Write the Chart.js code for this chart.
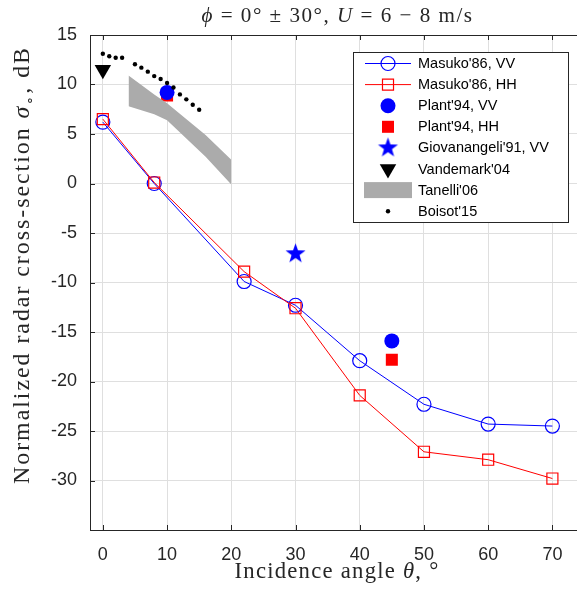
<!DOCTYPE html>
<html>
<head>
<meta charset="utf-8">
<script src="https://cdn.jsdelivr.net/npm/chart.js@4.4.1/dist/chart.umd.min.js"></script>
<style>
  html, body { margin: 0; padding: 0; background: #fff; overflow: hidden; }
  #wrap { width: 577px; height: 598px; overflow: hidden; }
</style>
</head>
<body>
<div id="wrap"><canvas id="rcsChart" width="600" height="598"></canvas></div>
<script>
// incidence angle (deg) and NRCS (dB)
const masukoAngles = [0, 8, 22, 30, 40, 50, 60, 70];
const masukoVV = [6.2, 0.0, -9.9, -12.3, -17.9, -22.3, -24.3, -24.5];
const masukoHH = [6.5, 0.1, -8.9, -12.6, -21.4, -27.1, -27.9, -29.8];
const plantAngles = [10, 45];
const plantVV = [9.2, -15.9];
const plantHH = [8.9, -17.8];
const giovanAngles = [30];
const giovanVV = [-7.1];
const vandemarkAngles = [0];
const vandemarkVals = [11.5];
const tanelliAngles = [4, 8, 10, 16, 20];
const tanelliUpper = [10.9, 9.0, 8.1, 4.9, 2.4];
const tanelliLower = [7.8, 7.0, 6.4, 2.7, -0.1];
const boisotAngles = [0, 1, 2, 3, 5, 6, 7, 8, 9, 10, 11, 12, 13, 14, 15];
const boisotVals = [13.1, 12.85, 12.7, 12.7, 12.05, 11.7, 11.3, 10.85, 10.55, 10.15, 9.7, 9.0, 8.5, 7.95, 7.45];
const xTickValues = [0, 10, 20, 30, 40, 50, 60, 70];
const yTickValues = [-35, -30, -25, -20, -15, -10, -5, 0, 5, 10, 15];
const legendOrder = ["Masuko'86, VV", "Masuko'86, HH", "Plant'94, VV", "Plant'94, HH",
  "Giovanangeli'91, VV", "Vandemark'04", "Tanelli'06", "Boisot'15"];

const pts = (xs, ys) => xs.map((x, i) => ({ x, y: ys[i] }));
const AX = '#262626';
const SANS = "'Liberation Sans', Arial, Helvetica, sans-serif";
const SERIF = "'Liberation Serif', 'Times New Roman', serif";

function makeStar(r, color) {
  const c = document.createElement('canvas');
  const s = Math.ceil(r * 2 + 2);
  c.width = c.height = s;
  const g = c.getContext('2d');
  g.fillStyle = color;
  g.beginPath();
  for (let k = 0; k < 10; k++) {
    const rad = k % 2 ? r * 0.4 : r;
    const a = -Math.PI / 2 + k * Math.PI / 5;
    g.lineTo(s / 2 + rad * Math.cos(a), s / 2 + rad * Math.sin(a));
  }
  g.closePath();
  g.fill();
  return c;
}
const star = makeStar(10.5, '#0000ff');

const datasets = [
  { label: "Boisot'15", data: pts(boisotAngles, boisotVals), showLine: false,
    pointStyle: 'circle', pointRadius: 2.2, pointBackgroundColor: '#000', pointBorderWidth: 0, order: 0 },
  { label: "Tanelli'06", data: pts(tanelliAngles, tanelliUpper), showLine: true,
    borderColor: 'rgba(0,0,0,0)', backgroundColor: '#ababab', pointRadius: 0, fill: '+1', order: 1 },
  { label: "tanelli-low", data: pts(tanelliAngles, tanelliLower), showLine: true,
    borderColor: 'rgba(0,0,0,0)', pointRadius: 0, fill: false, order: 1 },
  { label: "Vandemark'04", data: pts(vandemarkAngles, vandemarkVals), showLine: false,
    pointStyle: 'triangle', rotation: 180, pointRadius: 9.5, pointBackgroundColor: '#000', pointBorderWidth: 0, order: 2 },
  { label: "Giovanangeli'91, VV", data: pts(giovanAngles, giovanVV), showLine: false,
    pointStyle: star, pointRadius: 10.5, order: 3 },
  { label: "Plant'94, VV", data: pts(plantAngles, plantVV), showLine: false,
    pointStyle: 'circle', pointRadius: 7.5, pointBackgroundColor: '#0000ff', pointBorderWidth: 0, order: 4 },
  { label: "Plant'94, HH", data: pts(plantAngles, plantHH), showLine: false,
    pointStyle: 'rect', pointRadius: 8.5, pointBackgroundColor: '#ff0000', pointBorderWidth: 0, order: 5 },
  { label: "Masuko'86, HH", data: pts(masukoAngles, masukoHH), showLine: true,
    borderColor: '#ff0000', borderWidth: 1, pointStyle: 'rect', pointRadius: 7.8,
    pointBorderColor: '#ff0000', pointBackgroundColor: 'rgba(0,0,0,0)', pointBorderWidth: 1.2, order: 6 },
  { label: "Masuko'86, VV", data: pts(masukoAngles, masukoVV), showLine: true,
    borderColor: '#0000ff', borderWidth: 1, pointStyle: 'circle', pointRadius: 7,
    pointBorderColor: '#0000ff', pointBackgroundColor: 'rgba(0,0,0,0)', pointBorderWidth: 1.2, order: 7 }
];

// mixed roman/italic serif text, stretched to the reference width:
// half by font size, the rest by letter spacing
function drawRich(ctx, segs, cx, cy, angle, target) {
  const font = s => (s.it ? 'italic ' : '') + s.size + 'px ' + SERIF;
  const measure = () => segs.reduce((w, s) => { ctx.font = font(s); return w + ctx.measureText(s.t).width; }, 0);
  ctx.save();
  ctx.translate(cx, cy);
  ctx.rotate(angle);
  ctx.fillStyle = AX;
  ctx.textBaseline = 'alphabetic';
  ctx.textAlign = 'left';
  ctx.letterSpacing = '0px';
  const k = Math.sqrt(target / measure());
  segs.forEach(s => { s.size = +(s.size * k).toFixed(1); if (s.dy) s.dy *= k; });
  const n = segs.reduce((c, s) => c + [...s.t].length, 0);
  ctx.letterSpacing = ((target - measure()) / n).toFixed(2) + 'px';
  const w = measure();
  let x = -w / 2;
  segs.forEach(s => { ctx.font = font(s); ctx.fillText(s.t, x, s.dy || 0); x += ctx.measureText(s.t).width; });
  ctx.restore();
}

const decorations = {
  id: 'decorations',
  beforeDraw(chart) {
    const ctx = chart.ctx;
    ctx.save();
    ctx.fillStyle = '#fff';
    ctx.fillRect(0, 0, chart.width, chart.height);
    ctx.restore();
  },
  afterDraw(chart) {
    const ctx = chart.ctx;
    const a = chart.chartArea;
    const xs = chart.scales.x, ys = chart.scales.y;
    ctx.save();
    // box and inward ticks
    ctx.strokeStyle = AX;
    ctx.lineWidth = 1;
    ctx.strokeRect(Math.round(a.left) + 0.5, Math.round(a.top) + 0.5,
      Math.round(a.right - a.left), Math.round(a.bottom - a.top));
    ctx.beginPath();
    xTickValues.forEach(v => {
      const p = Math.round(xs.getPixelForValue(v)) + 0.5;
      ctx.moveTo(p, a.bottom); ctx.lineTo(p, a.bottom - 5);
      ctx.moveTo(p, a.top); ctx.lineTo(p, a.top + 5);
    });
    yTickValues.forEach(v => {
      const p = Math.round(ys.getPixelForValue(v)) + 0.5;
      ctx.moveTo(a.left, p); ctx.lineTo(a.left + 5, p);
      ctx.moveTo(a.right, p); ctx.lineTo(a.right - 5, p);
    });
    ctx.stroke();

    // legend
    const lx = 353.5, ly = 52.5, lw = 215, lh = 170;
    ctx.fillStyle = '#fff';
    ctx.fillRect(lx, ly, lw, lh);
    ctx.strokeStyle = AX;
    ctx.strokeRect(lx, ly, lw, lh);
    legendOrder.forEach((label, i) => {
      const ds = chart.data.datasets.find(d => d.label === label);
      const cy = 63.5 + i * 21.1;
      const mx = 388;
      if (ds.fill) {
        ctx.fillStyle = ds.backgroundColor;
        ctx.fillRect(364, cy - 8, 48, 16);
      } else {
        if (ds.showLine) {
          ctx.strokeStyle = ds.borderColor;
          ctx.lineWidth = ds.borderWidth;
          ctx.beginPath();
          ctx.moveTo(365, cy); ctx.lineTo(411, cy);
          ctx.stroke();
        }
        ctx.fillStyle = ds.pointBackgroundColor || '#000';
        ctx.strokeStyle = ds.pointBorderColor || '#000';
        ctx.lineWidth = ds.pointBorderWidth || 0;
        Chart.helpers.drawPoint(ctx, {
          pointStyle: ds.pointStyle, radius: ds.pointRadius,
          rotation: ds.rotation || 0, borderWidth: ds.pointBorderWidth || 0
        }, mx, cy);
      }
      ctx.fillStyle = '#000';
      ctx.font = '14.5px ' + SANS;
      ctx.textBaseline = 'middle';
      ctx.textAlign = 'left';
      ctx.fillText(label, 418, cy + 0.5);
    });
    ctx.restore();

    // title and axis titles
    drawRich(ctx, [
      { t: 'ϕ', size: 18, it: true }, { t: ' = 0° ± 30°, ', size: 18 },
      { t: 'U', size: 18, it: true }, { t: ' = 6 − 8 m/s', size: 18 }
    ], 337.5, 21.5, 0, 272);
    drawRich(ctx, [
      { t: 'Incidence angle ', size: 20 }, { t: 'θ', size: 20, it: true }, { t: ', °', size: 20 }
    ], 337, 578, 0, 205);
    drawRich(ctx, [
      { t: 'Normalized radar cross-section ', size: 20 }, { t: 'σ', size: 20, it: true },
      { t: '∘', size: 12, dy: 4 }, { t: ', dB', size: 20 }
    ], 29, 265, -Math.PI / 2, 438);
  }
};

const chart = new Chart(document.getElementById('rcsChart').getContext('2d'), {
  type: 'line',
  data: { datasets },
  options: {
    responsive: false,
    animation: false,
    events: [],
    layout: { padding: { top: 35, right: 15.5, left: 0, bottom: 0 } },
    elements: { line: { tension: 0 } },
    plugins: { legend: { display: false }, title: { display: false }, tooltip: { enabled: false } },
    scales: {
      x: {
        type: 'linear', min: -2, max: 75,
        afterBuildTicks: s => { s.ticks = xTickValues.map(v => ({ value: v })); },
        afterFit: s => { s.height = 68; },
        grid: { color: '#dfdfdf', drawTicks: false },
        border: { display: false },
        ticks: { color: AX, padding: 14.5, font: { family: SANS, size: 18 } }
      },
      y: {
        type: 'linear', min: -35, max: 15,
        afterBuildTicks: s => { s.ticks = yTickValues.map(v => ({ value: v })); },
        afterFit: s => { s.width = 90; },
        grid: { color: '#dfdfdf', drawTicks: false },
        border: { display: false },
        ticks: { color: AX, padding: 13, font: { family: SANS, size: 18 },
          callback: v => (v === -35 ? '' : String(v)) }
      }
    }
  },
  plugins: [decorations]
});
</script>
</body>
</html>
